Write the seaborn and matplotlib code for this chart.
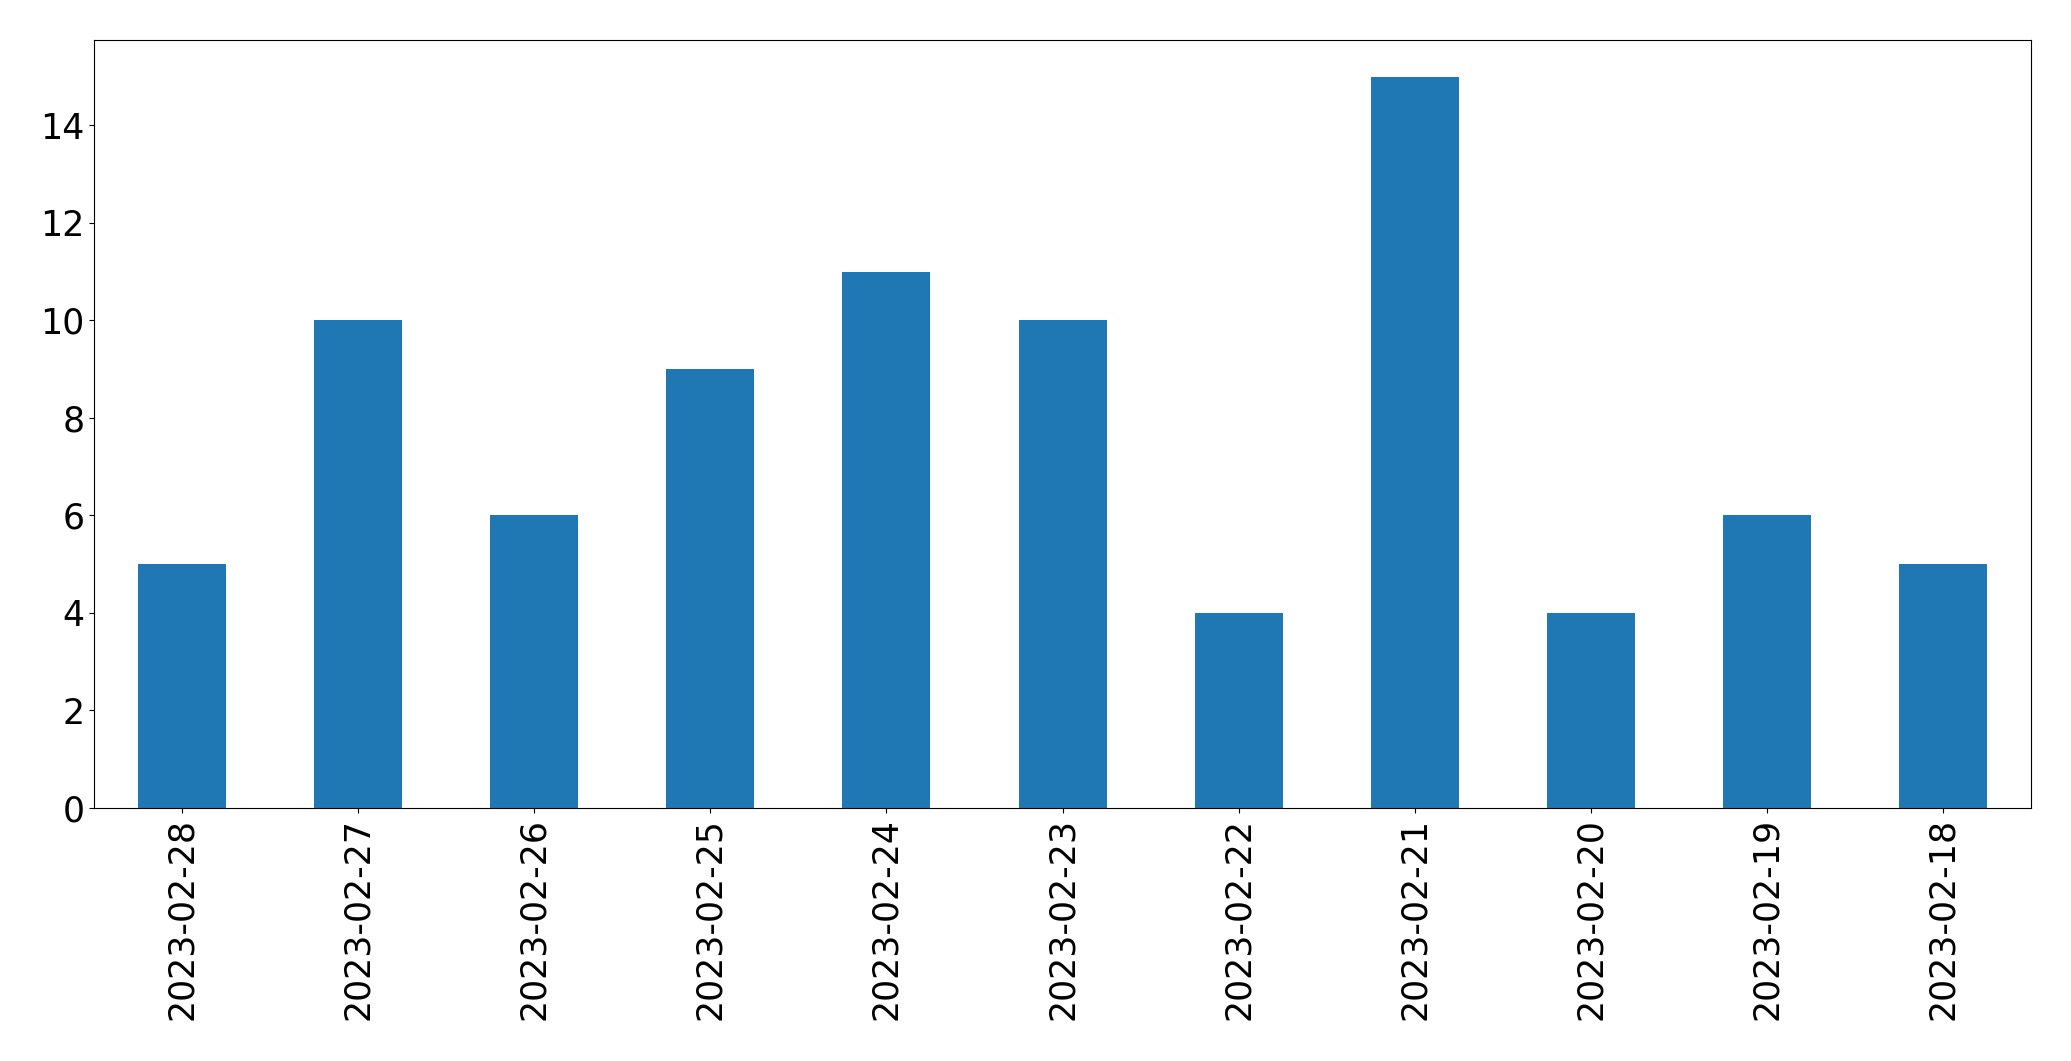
import seaborn as sns
import matplotlib.pyplot as plt
import pandas as pd

# data
dates = [
    "2023-02-28", "2023-02-27", "2023-02-26", "2023-02-25", "2023-02-24",
    "2023-02-23", "2023-02-22", "2023-02-21", "2023-02-20", "2023-02-19",
    "2023-02-18",
]
counts = [5, 10, 6, 9, 11, 10, 4, 15, 4, 6, 5]

df = pd.DataFrame({"date": dates, "count": counts})

plt.rcParams["font.family"] = ["DejaVu Sans"]
plt.rcParams["font.size"] = 25

fig = plt.figure(figsize=(20.71, 10.61), dpi=100)
ax = fig.add_axes([0.0454, 0.2385, 0.9353, 0.7238])

sns.barplot(data=df, x="date", y="count", order=dates, color="#1f77b4",
            saturation=1, width=0.5, ax=ax)

ax.set_xlim(-0.5, len(dates) - 0.5)
ax.set_ylim(0, 15.75)
ax.set_xlabel("")
ax.set_ylabel("")
ax.tick_params(axis="both", labelsize=25)
ax.tick_params(axis="x", rotation=90)

fig.savefig("out.png", dpi=100)
plt.close(fig)
